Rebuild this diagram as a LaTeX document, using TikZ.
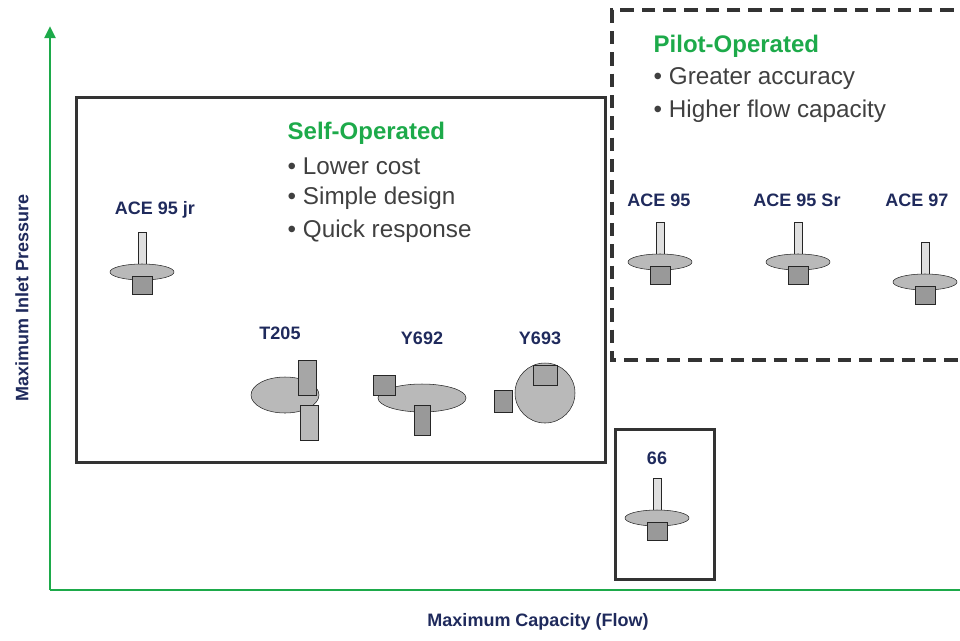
\documentclass[tikz,border=0pt]{standalone}
\usepackage{fontspec}
\setmainfont{Liberation Sans}
\usetikzlibrary{arrows.meta}
\definecolor{grn}{HTML}{1DAA4A}
\definecolor{navy}{HTML}{1F2A5C}
\definecolor{txt}{HTML}{404040}
\definecolor{frame}{HTML}{333333}
\tikzset{
 lbl/.style={font=\bfseries\fontsize{13.5}{15}\selectfont,text=navy},
 head/.style={font=\bfseries\fontsize{18}{20}\selectfont,text=grn,anchor=west},
 bul/.style={font=\fontsize{18.2}{20}\selectfont,text=txt,anchor=west},
 box/.style={draw=frame,line width=2.2pt},
 part/.style={fill=gray!55,draw=gray!30!black,line width=0.4pt},
 reg/.pic={
  \fill[part,fill=gray!25] (-4,-40) rectangle (4,-8);
  \fill[part,fill=gray!70] (-6,-8) rectangle (6,4);
  \fill[part] (0,0) ellipse (32 and 8);
  \fill[part,fill=gray!80] (-10,4) rectangle (10,22);
 }
}
\begin{document}
\begin{tikzpicture}[x=0.75pt,y=-0.75pt]
\useasboundingbox (0,0) rectangle (960,640);
% axes
\coordinate (o) at (50,590);
\coordinate (ytop) at (50,26);
\coordinate (xend) at (960,590);
\draw[grn,line width=2.2pt,-{Triangle[length=9pt,width=8pt]}] (o) -- (ytop);
\draw[grn,line width=2.2pt] (o) -- (xend);
\node[lbl,rotate=90] (ylab) at (22,298) {Maximum Inlet Pressure};
\node[lbl] (xlab) at (538,622) {Maximum Capacity (Flow)};
% boxes
\node[box,minimum width=529*0.75pt,minimum height=365*0.75pt,anchor=north west] (self) at (75,96) {};
\draw[frame,line width=2.6pt,dash pattern=on 10pt off 6pt] (975,10) -- (612,10) -- (612,360) -- (975,360);
\node[box,minimum width=99*0.75pt,minimum height=150*0.75pt,anchor=north west] (b66) at (614,428) {};
% texts
\node[head] (sh) at (283,133) {Self-Operated};
\node[bul] (s1) at (283,166) {• Lower cost};
\node[bul] (s2) at (283,198) {• Simple design};
\node[bul] (s3) at (283,231) {• Quick response};
\node[head] (ph) at (649,46) {Pilot-Operated};
\node[bul] (p1) at (649,79) {• Greater accuracy};
\node[bul] (p2) at (649,111) {• Higher flow capacity};
% labels
\node[lbl] (l1) at (155,210) {ACE 95 jr};
\node[lbl] (l2) at (280,333) {T205};
\node[lbl] (l3) at (422,338) {Y692};
\node[lbl] (l4) at (540,338) {Y693};
\node[lbl] (l5) at (659,200) {ACE 95};
\node[lbl] (l6) at (797,200) {ACE 95 Sr};
\node[lbl] (l7) at (917,200) {ACE 97};
\node[lbl] (l8) at (657,458) {66};
% product sketches
\pic at (142,272) {reg};
\pic at (660,262) {reg};
\pic at (798,262) {reg};
\pic at (925,282) {reg};
\pic at (657,518) {reg};
% T205
\fill[part] (285,395) ellipse (34 and 18);
\fill[part,fill=gray!70] (298,360) rectangle (316,395);
\fill[part] (300,405) rectangle (318,440);
% Y692
\fill[part] (422,398) ellipse (44 and 14);
\fill[part,fill=gray!80] (373,375) rectangle (395,395);
\fill[part,fill=gray!80] (414,405) rectangle (430,435);
% Y693
\fill[part] (545,393) circle (30);
\fill[part,fill=gray!70] (533,365) rectangle (557,385);
\fill[part,fill=gray!80] (494,390) rectangle (512,412);
\end{tikzpicture}
\end{document}
